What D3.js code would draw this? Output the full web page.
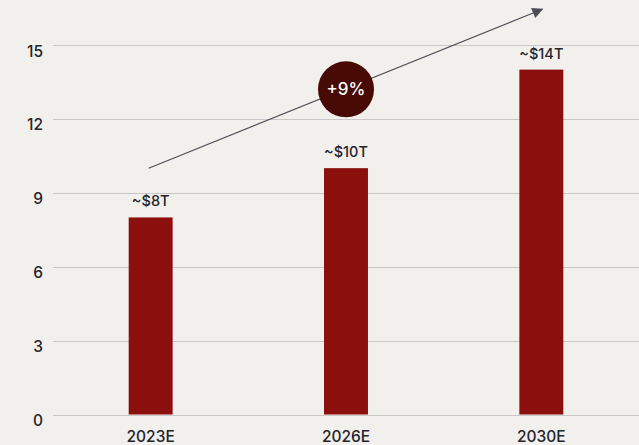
<!DOCTYPE html>
<html>
<head>
<meta charset="utf-8">
<style>
  body { margin: 0; background: #f2f0ed; }
  svg { display: block; font-family: Inter, "Noto Sans", sans-serif; }
  .grid line { stroke: #c9c7c7; stroke-width: 1.2; shape-rendering: crispEdges; }
  .tick-label { fill: #24242b; font-size: 15.5px; font-weight: 500; }
  .bar-label { fill: #24242b; font-size: 14.5px; font-weight: 500; }
</style>
</head>
<body>
<script src="https://d3js.org/d3.v7.min.js"></script>
<script>
var width = 639, height = 445;

// data
var years = ["2023E", "2026E", "2030E"];
var values = [8, 10, 14];
var labels = ["~$8T", "~$10T", "~$14T"];
var yTicks = [0, 3, 6, 9, 12, 15];

// growth arrow annotation (category, value)
var arrowFrom = ["2023E", 10];
var arrowTo = ["2030E", 16.45];
var cagrLabel = "+9%";
var cagrAt = ["2026E", 13.2];

var svg = d3.select("body").append("svg")
    .attr("width", width)
    .attr("height", height);

var x = d3.scaleBand()
    .domain(years)
    .range([53, 639])
    .paddingInner(0.775)
    .paddingOuter(0.3875);

var y = d3.scaleLinear()
    .domain([0, 15])
    .range([414.5, 45]);

// gridlines
svg.append("g").attr("class", "grid")
    .selectAll("line")
    .data(yTicks)
    .enter().append("line")
    .attr("x1", 53)
    .attr("x2", width)
    .attr("y1", function (d) { return Math.round(y(d)) + 0.5; })
    .attr("y2", function (d) { return Math.round(y(d)) + 0.5; });

// y tick labels
svg.selectAll(".tick-label.y")
    .data(yTicks)
    .enter().append("text")
    .attr("class", "tick-label y")
    .attr("x", 43)
    .attr("y", function (d) { return y(d) + 11.5; })
    .attr("text-anchor", "end")
    .text(function (d) { return d; });

// x labels
svg.selectAll(".tick-label.x")
    .data(years)
    .enter().append("text")
    .attr("class", "tick-label x")
    .attr("x", function (d) { return x(d) + x.bandwidth() / 2; })
    .attr("y", 442)
    .attr("text-anchor", "middle")
    .text(function (d) { return d; });

// bars
svg.selectAll(".bar")
    .data(values)
    .enter().append("rect")
    .attr("class", "bar")
    .attr("fill", "#8a0f0d")
    .attr("x", function (d, i) { return x(years[i]); })
    .attr("y", function (d) { return y(d); })
    .attr("width", x.bandwidth())
    .attr("height", function (d) { return y(0) - y(d); });

// bar value labels
svg.selectAll(".bar-label")
    .data(values)
    .enter().append("text")
    .attr("class", "bar-label")
    .attr("x", function (d, i) { return x(years[i]) + x.bandwidth() / 2; })
    .attr("y", function (d) { return y(d) - 11; })
    .attr("text-anchor", "middle")
    .text(function (d, i) { return labels[i]; });

// arrow
svg.append("defs").append("marker")
    .attr("id", "head")
    .attr("viewBox", "0 0 10 10")
    .attr("refX", 9)
    .attr("refY", 5)
    .attr("markerWidth", 16)
    .attr("markerHeight", 11)
    .attr("markerUnits", "userSpaceOnUse")
    .attr("orient", "auto")
    .append("path")
    .attr("d", "M0,0L10,5L0,10Z")
    .attr("fill", "#4d4d55");

var cx = function (c) { return x(c) + x.bandwidth() / 2; };

svg.append("line")
    .attr("x1", cx(arrowFrom[0]) - 2)
    .attr("y1", y(arrowFrom[1]))
    .attr("x2", cx(arrowTo[0]) + 1)
    .attr("y2", y(arrowTo[1]))
    .attr("stroke", "#4d4d55")
    .attr("stroke-width", 1.1)
    .attr("marker-end", "url(#head)");

// CAGR bubble
svg.append("circle")
    .attr("cx", cx(cagrAt[0]))
    .attr("cy", y(cagrAt[1]))
    .attr("r", 28)
    .attr("fill", "#470a04");

svg.append("text")
    .attr("x", cx(cagrAt[0]))
    .attr("y", y(cagrAt[1]) + 6)
    .attr("text-anchor", "middle")
    .attr("fill", "#ffffff")
    .style("font-size", "17px")
    .style("font-weight", 500)
    .text(cagrLabel);
</script>
</body>
</html>
